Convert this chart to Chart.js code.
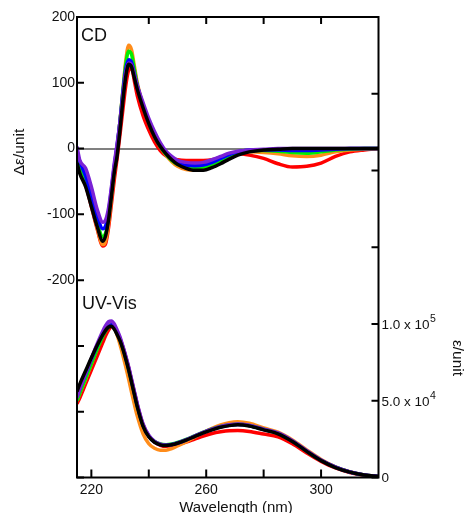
<!DOCTYPE html>
<html>
<head>
<meta charset="utf-8">
<script src="https://cdn.jsdelivr.net/npm/chart.js@4.4.1/dist/chart.umd.min.js"></script>
<style>
html,body{margin:0;padding:0;background:#fff;}
canvas{display:block;}
</style>
</head>
<body>
<canvas id="c" width="464" height="513"></canvas>
<script>
// ---- data ----
const wavelengths = [215,216,218,220,222,224,225,226,227,228,229,230,231,232,233,234,235,236,238,240,242,244,246,248,250,253,256,259,262,265,268,271,275,280,285,290,295,300,305,310,315,320];

const seriesNames = ['black','purple','blue','green','orange','red'];
const seriesColors = ['#000000','#7a22d6','#0000ff','#00ee00','#ff8c1a','#ff0000'];

// CD (Δε / unit)
const cdBlack  = [-22,-38,-58,-88,-118,-141,-132,-108,-72,-36,-10,30,74,110,128,124,107,90,62,38,18,3,-8,-17,-24,-30,-33,-33,-29,-23,-16,-10,-5,-2,-1,0,0,0,0,0,0,0];
const cdPurple = [3,-18,-30,-58,-92,-112,-108,-90,-58,-22,8,42,82,116,130,127,112,96,70,46,26,9,-4,-12,-18,-21,-22,-21,-17,-12,-7,-4,-2,-1,0,0,0,0,0,0,0,0];
const cdBlue   = [-7,-20,-42,-72,-102,-122,-117,-96,-62,-26,6,42,86,121,135,131,113,95,66,42,22,6,-6,-15,-21,-25,-26,-25,-21,-15,-9,-5,-2,-2,-2,-3,-3,-2,-1,0,0,0];
const cdGreen  = [-10,-25,-48,-80,-112,-134,-128,-105,-68,-30,3,43,88,129,148,143,120,97,65,40,19,3,-9,-18,-24,-28,-29,-28,-24,-18,-11,-6,-3,-3,-4,-6,-7,-5,-2,-1,0,0];
const cdOrange = [-10,-25,-50,-85,-120,-146,-140,-114,-75,-36,-2,43,90,134,157,150,125,100,66,40,19,3,-10,-20,-27,-32,-33,-32,-27,-20,-12,-7,-5,-6,-8,-11,-12,-10,-5,-2,-1,0];
const cdRed    = [-14,-28,-55,-88,-122,-148,-144,-120,-84,-47,-14,22,60,96,119,122,102,80,50,28,10,-3,-11,-15,-17,-18,-18,-18,-17,-13,-9,-8,-10,-15,-23,-28,-27,-22,-12,-5,-2,0];

// UV-Vis (ε / unit)
const uvBlack  = [56000,61000,69500,78000,86000,93000,96000,98000,98500,96500,93000,89000,83500,77000,70000,62000,54000,46000,33500,26500,23000,21300,20800,21300,22300,24300,26700,29000,31000,32700,33800,34300,33500,31000,28500,23500,17000,11000,6500,3500,1600,700];
const uvPurple = [52000,57500,67500,77500,87000,95500,99000,101500,102000,100000,96000,91500,85500,79000,72000,64000,56000,48000,35000,27500,23500,21700,21000,21400,22400,24500,27000,29400,31500,33300,34400,34900,34000,31500,29000,24000,17500,11400,6800,3600,1700,700];
const uvBlue   = [53000,58000,67500,77000,86000,93500,96500,98500,99500,97500,94000,90000,84500,78000,71000,63000,55000,47000,34000,27000,23300,21500,21000,21500,22500,24500,27000,29300,31300,33000,34100,34600,33800,31300,28800,23800,17300,11200,6700,3600,1700,700];
const uvGreen  = [50000,55000,64500,74000,83500,92000,95500,98000,99000,97000,93500,89500,84000,77500,70500,62500,54500,46500,34000,27000,23500,21800,21300,21800,22800,24800,27200,29500,31600,33200,34300,34700,33900,31400,28800,23700,17200,11200,6700,3600,1700,700];
const uvOrange = [50000,55000,64000,74000,84000,93500,97500,100000,100500,97500,92500,86500,79500,72000,64000,55500,47500,40000,28500,22000,19000,17800,17800,18800,20500,23200,26300,29300,32000,34200,35700,36300,35300,32300,29500,24500,18000,11800,7000,3800,1700,600];
const uvRed    = [48000,52000,61000,70000,79000,88000,92500,96000,98500,98000,95000,90500,85000,78500,71500,63500,55500,47500,34500,27000,23000,21000,20300,20600,21400,23000,25000,27000,28700,29800,30500,30600,30000,28300,26500,22000,16000,10500,6200,3300,1500,600];

const cdSeries = [cdBlack, cdPurple, cdBlue, cdGreen, cdOrange, cdRed];
const uvSeries = [uvBlack, uvPurple, uvBlue, uvGreen, uvOrange, uvRed];

// axes
const xMin = 215, xMax = 320;
const xTicks = [220,240,260,280,300];
const xTopTicks = [240,260,280,300];
const xLabels = [220,260,300];
const leftMin = -500, leftMax = 200;
const leftTicks = [200,100,0,-100,-200,-300,-400,-500];
const leftLabels = [200,100,0,-100,-200];
const rightMin = 0, rightMax = 300000;
const rightTicks = [0,50000,100000,150000,200000,250000,300000];
const rightLabels = [{v:0, main:'0', sup:''},{v:50000, main:'5.0 x 10', sup:'4'},{v:100000, main:'1.0 x 10', sup:'5'}];

const FONT = '"Liberation Sans", Arial, Helvetica, sans-serif';

// ---- datasets ----
const datasets = [];
seriesNames.forEach((n, i) => {
  datasets.push({
    label: 'CD ' + n,
    data: wavelengths.map((w, k) => ({x: w, y: cdSeries[i][k]})),
    yAxisID: 'y',
    borderColor: seriesColors[i],
    borderWidth: 3.5,
    pointRadius: 0,
    cubicInterpolationMode: 'monotone',
    fill: false
  });
});
seriesNames.forEach((n, i) => {
  datasets.push({
    label: 'UV ' + n,
    data: wavelengths.map((w, k) => ({x: w, y: uvSeries[i][k]})),
    yAxisID: 'y2',
    borderColor: seriesColors[i],
    borderWidth: 3.5,
    pointRadius: 0,
    cubicInterpolationMode: 'monotone',
    fill: false
  });
});

const decor = {
  id: 'decor',
  afterDraw(chart) {
    const ctx = chart.ctx;
    const a = chart.chartArea;
    const xs = chart.scales.x, ys = chart.scales.y, y2 = chart.scales.y2;
    ctx.save();
    ctx.strokeStyle = '#000';
    ctx.lineWidth = 2;
    ctx.strokeRect(a.left, a.top, a.right - a.left, a.bottom - a.top);
    ctx.beginPath();
    leftTicks.forEach(v => { const y = ys.getPixelForValue(v); ctx.moveTo(a.left, y); ctx.lineTo(a.left + 7, y); });
    rightTicks.forEach(v => { const y = y2.getPixelForValue(v); ctx.moveTo(a.right, y); ctx.lineTo(a.right - 7, y); });
    xTicks.forEach(v => { const x = xs.getPixelForValue(v); ctx.moveTo(x, a.bottom); ctx.lineTo(x, a.bottom - 8); });
    xTopTicks.forEach(v => { const x = xs.getPixelForValue(v); ctx.moveTo(x, a.top); ctx.lineTo(x, a.top + 7); });
    ctx.stroke();

    ctx.fillStyle = '#111';
    // right tick labels with superscripts
    rightLabels.forEach(l => {
      const y = y2.getPixelForValue(l.v);
      ctx.font = '13.5px ' + FONT;
      ctx.textAlign = 'left';
      ctx.textBaseline = 'alphabetic';
      const x0 = a.right + 3;
      ctx.fillText(l.main, x0, y + 4.8);
      if (l.sup) {
        const w = ctx.measureText(l.main).width;
        ctx.font = '10.5px ' + FONT;
        ctx.fillText(l.sup, x0 + w + 0.5, y - 2);
      }
    });
    // panel labels
    ctx.font = '18px ' + FONT;
    ctx.textAlign = 'left';
    ctx.fillText('CD', a.left + 4, a.top + 24);
    ctx.fillText('UV-Vis', a.left + 5, a.top + 292);
    // axis titles
    ctx.font = '15.5px ' + FONT;
    ctx.textAlign = 'center';
    ctx.textBaseline = 'middle';
    ctx.save();
    ctx.translate(20, 152);
    ctx.rotate(-Math.PI / 2);
    ctx.fillText('Δε/unit', 0, 0);
    ctx.restore();
    ctx.save();
    ctx.translate(457, 358);
    ctx.rotate(Math.PI / 2);
    ctx.fillText('ε/unit', 0, 0);
    ctx.restore();
    ctx.font = '15px ' + FONT;
    ctx.textBaseline = 'alphabetic';
    ctx.fillText('Wavelength (nm)', 236, 512);
    ctx.restore();
  }
};

new Chart(document.getElementById('c'), {
  type: 'line',
  data: { datasets },
  plugins: [decor],
  options: {
    responsive: false,
    animation: false,
    devicePixelRatio: 1,
    layout: { padding: { top: 17, left: 0, right: 0, bottom: 0 } },
    plugins: { legend: { display: false }, tooltip: { enabled: false } },
    scales: {
      x: {
        type: 'linear', min: xMin, max: xMax, position: 'bottom',
        afterBuildTicks: s => { s.ticks = xTicks.map(v => ({value: v})); },
        afterFit: s => { s.height = 35.5; },
        ticks: {
          color: '#111', font: { size: 14, family: FONT }, padding: 4, maxRotation: 0, autoSkip: false,
          callback: v => xLabels.includes(v) ? String(v) : ''
        },
        grid: { display: false, drawTicks: false },
        border: { display: false }
      },
      y: {
        type: 'linear', min: leftMin, max: leftMax, position: 'left',
        afterBuildTicks: s => { s.ticks = leftTicks.map(v => ({value: v})); },
        afterFit: s => { s.width = 77; },
        ticks: {
          color: '#111', font: { size: 14, family: FONT }, padding: 2, autoSkip: false,
          callback: v => leftLabels.includes(v) ? String(v) : ''
        },
        grid: {
          drawTicks: false,
          lineWidth: 2,
          color: c => (c.tick && c.tick.value === 0) ? '#808080' : 'rgba(0,0,0,0)'
        },
        border: { display: false }
      },
      y2: {
        type: 'linear', min: rightMin, max: rightMax, position: 'right',
        afterBuildTicks: s => { s.ticks = rightTicks.map(v => ({value: v})); },
        afterFit: s => { s.width = 85.5; },
        ticks: { display: false },
        grid: { display: false, drawTicks: false },
        border: { display: false }
      }
    }
  }
});
</script>
</body>
</html>
